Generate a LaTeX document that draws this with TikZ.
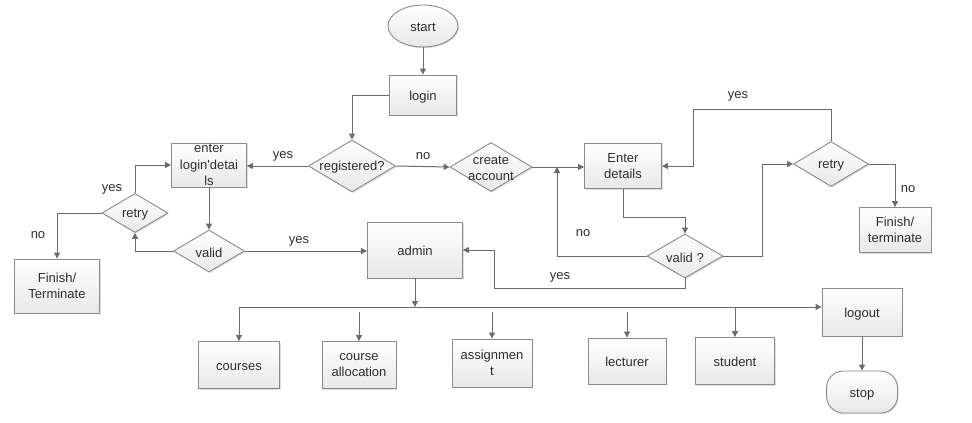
\documentclass[tikz,border=0pt]{standalone}
\usepackage{fontspec}
\setmainfont{Liberation Sans}
\usetikzlibrary{shapes.geometric,arrows.meta,shadows,calc}
\definecolor{linegray}{HTML}{6B6B6B}
\definecolor{boxgray}{HTML}{8A8A8A}
\definecolor{txtgray}{HTML}{2E2E2E}
\begin{document}
\begin{tikzpicture}[x=1pt,y=-1pt,
  every node/.style={font=\fontsize{13}{16.5}\selectfont, text=txtgray},
  shade/.style={draw=boxgray, line width=0.9pt, top color=white, bottom color=black!9,
    drop shadow={shadow xshift=1.2pt, shadow yshift=-1.2pt, fill=black!25, opacity=.5}},
  box/.style={shade, rectangle, align=center, inner sep=1pt},
  onebox/.style={box, text height=13pt, text depth=3pt},
  decision/.style={shade, diamond, inner sep=0pt},
  dtext/.style={align=center, yshift=-1.5pt},
  flow/.style={draw=linegray, line width=1pt, -{Triangle[length=6pt,width=6pt]}},
  lbl/.style={inner sep=0pt}]
\useasboundingbox (0,0) rectangle (972,423);
\node[shade, ellipse, minimum width=70pt, minimum height=42pt, text height=13pt, text depth=3pt] (start) at (423,26) {start};
\node[onebox, minimum width=67pt, minimum height=40pt] (login) at (423,95) {login};
\node[decision, minimum width=87pt, minimum height=52pt, label={[dtext]center:registered?}] (reg) at (352,166) {};
\node[decision, minimum width=82pt, minimum height=49pt, label={[dtext]center:create\\account}] (create) at (491,167) {};
\node[box, minimum width=75pt, minimum height=44pt] (enter1) at (209,165) {enter\\login\textquotesingle detai\\ls};
\node[decision, minimum width=71pt, minimum height=42pt, label={[dtext]center:valid}] (valid1) at (209,251) {};
\node[decision, minimum width=66pt, minimum height=39pt, label={[dtext]center:retry}] (retry1) at (135,213) {};
\node[box, minimum width=85pt, minimum height=54pt] (fin1) at (57,286) {Finish/\\Terminate};
\node[onebox, minimum width=95pt, minimum height=56pt] (admin) at (415,250) {admin};
\node[box, minimum width=77pt, minimum height=45pt] (enter2) at (623,166) {Enter\\details};
\node[decision, minimum width=76pt, minimum height=44pt, label={[dtext]center:valid ?}] (valid2) at (685,256) {};
\node[decision, minimum width=75pt, minimum height=45pt, label={[dtext]center:retry}] (retry2) at (831,164) {};
\node[box, minimum width=72pt, minimum height=45pt] (fin2) at (895,230) {Finish/\\terminate};
\node[onebox, minimum width=81pt, minimum height=47pt] (courses) at (239,365) {courses};
\node[box, minimum width=74pt, minimum height=47pt] (courseal) at (359,365) {course\\allocation};
\node[box, minimum width=80pt, minimum height=48pt] (assign) at (492,363) {assignmen\\t};
\node[onebox, minimum width=78pt, minimum height=46pt] (lecturer) at (627,361) {lecturer};
\node[onebox, minimum width=79pt, minimum height=47pt] (student) at (735,361) {student};
\node[onebox, minimum width=80pt, minimum height=48pt] (logout) at (862,312) {logout};
\node[onebox, rounded corners=17pt, minimum width=71pt, minimum height=42pt] (stop) at (862,392) {stop};
\coordinate (join) at (557,167);
\coordinate (bus) at (415,307);
\draw[flow] (start) -- (login);
\draw[flow] (login.west) -| (reg.north);
\draw[flow] (reg.east) -- (create.west);
\draw[flow] (reg.west) -- (reg.west -| enter1.east);
\draw[flow] (create.east) -- (create.east -| enter2.west);
\draw[flow] (enter1.south) -- (valid1.north);
\draw[flow] (valid1.east) -- (valid1.east -| admin.west);
\draw[flow] (valid1.west) -| (retry1.south);
\draw[flow] (retry1.north) |- (enter1.west);
\draw[flow] (retry1.west) -| (fin1.north);
\draw[flow] (enter2.south) -- ++(0,29) -| (valid2.north);
\draw[flow] (valid2.west) -| (join);
\draw[flow] (valid2.east) -- ++(39,0) |- (retry2.west);
\draw[flow] (retry2.north) -- ++(0,-32) -- ++(-138,0) |- (enter2.east);
\draw[flow] (retry2.east) -| (fin2.north);
\draw[flow] (valid2.south) -- ++(0,10) -- ++(-191,0) |- (admin.east);
\draw[flow] (admin.south) -- (bus);
\draw[flow] (bus -| courses.north) -- (bus -| logout.west);
\draw[flow] (bus -| courses.north) -- (courses.north);
\draw[flow] ($(bus -| courseal.north)+(0,5)$) -- (courseal.north);
\draw[flow] ($(bus -| assign.north)+(0,5)$) -- (assign.north);
\draw[flow] ($(bus -| lecturer.north)+(0,5)$) -- (lecturer.north);
\draw[flow] (bus -| student.north) -- (student.north);
\draw[flow] (logout) -- (stop);
\node[lbl] (noreg) at (423,156) {no};
\node[lbl] (yesreg) at (283,156) {yes};
\node[lbl] (yesretry1) at (112,189) {yes};
\node[lbl] (noretry1) at (38,235) {no};
\node[lbl] (yesvalid1) at (299,241) {yes};
\node[lbl] (yesretry2) at (738,96) {yes};
\node[lbl] (noretry2) at (908,189) {no};
\node[lbl] (novalid2) at (583,233) {no};
\node[lbl] (yesvalid2) at (560,277) {yes};
\end{tikzpicture}
\end{document}
